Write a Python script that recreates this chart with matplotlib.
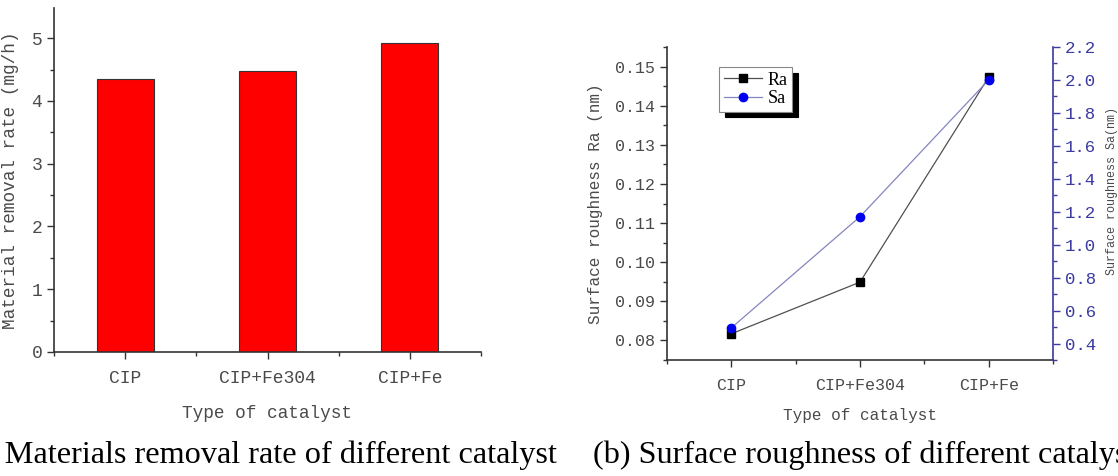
import matplotlib
matplotlib.use("Agg")
import matplotlib.pyplot as plt
from matplotlib.ticker import MultipleLocator

# data
catalysts = ["CIP", "CIP+Fe304", "CIP+Fe"]
removal_rate = [4.35, 4.48, 4.92]
ra = [0.0817, 0.0949, 0.1473]
sa = [0.495, 1.17, 2.0]

mono = "Liberation Mono"
serif = "Liberation Serif"
grey = "#4a4a4a"
spine = "#333333"
blue = "#3a3aa0"

W, H = 1118, 476
fig = plt.figure(figsize=(W / 100, H / 100), dpi=100)

x = list(range(1, len(catalysts) + 1))


def style_axis(ax, fs):
    for s in ["top", "right"]:
        ax.spines[s].set_visible(False)
    for s in ["left", "bottom"]:
        ax.spines[s].set_color(spine)
        ax.spines[s].set_linewidth(1.2)
    ax.set_xlim(0.5, 3.5)
    ax.set_xticks(x)
    ax.set_xticklabels(catalysts, fontfamily=mono, fontsize=fs, color=grey)
    ax.set_xticks([0.5, 1.5, 2.5, 3.5], minor=True)
    ax.tick_params(axis="both", which="major", direction="out", length=5,
                   width=1, color=spine, labelcolor=grey)
    ax.tick_params(axis="both", which="minor", direction="out", length=3,
                   width=1, color=spine)
    ax.tick_params(axis="x", which="major", pad=8)
    for lab in ax.get_yticklabels():
        lab.set_fontfamily(mono)
        lab.set_fontsize(fs)


# (a) bar chart
ax1 = fig.add_axes([54 / W, 124 / H, 427 / W, 344 / H])
ax1.bar(x, removal_rate, width=0.4, color="#ff0000", edgecolor=spine, linewidth=0.8)
ax1.set_ylim(0, 5.48)
ax1.yaxis.set_major_locator(MultipleLocator(1))
ax1.yaxis.set_minor_locator(MultipleLocator(0.5))
style_axis(ax1, 13)
ax1.set_ylabel("Material removal rate (mg/h)", fontfamily=mono, fontsize=12.8, color=grey)
ax1.yaxis.set_label_coords(-0.082, 0.5)
ax1.set_xlabel("Type of catalyst", fontfamily=mono, fontsize=12.8, color=grey)
ax1.xaxis.set_label_coords(0.5, -0.154)

# (b) roughness with twin axis
ax2 = fig.add_axes([667 / W, 116 / H, 386 / W, 313 / H])
ax2.set_ylim(0.075, 0.155)
ax2.yaxis.set_major_locator(MultipleLocator(0.01))
ax2.yaxis.set_minor_locator(MultipleLocator(0.005))
ax2.yaxis.set_major_formatter(plt.FuncFormatter(lambda v, p: "%.2f" % v))
l1, = ax2.plot(x, ra, color="#505050", lw=0.9, marker="s", ms=6,
               mfc="black", mec="black", label="Ra")
style_axis(ax2, 12)
ax2.set_ylabel("Surface roughness Ra (nm)", fontfamily=mono, fontsize=11.5, color=grey)
ax2.yaxis.set_label_coords(-0.167, 0.5)
ax2.set_xlabel("Type of catalyst", fontfamily=mono, fontsize=11.5, color=grey)
ax2.xaxis.set_label_coords(0.5, -0.153)

ax3 = ax2.twinx()
ax3.set_ylim(0.3, 2.2)
ax3.yaxis.set_major_locator(MultipleLocator(0.2))
ax3.yaxis.set_minor_locator(MultipleLocator(0.1))
ax3.yaxis.set_major_formatter(plt.FuncFormatter(lambda v, p: "%.1f" % v))
l2, = ax3.plot(x, sa, color="#8585c0", lw=0.9, marker="o", ms=6,
               mfc="#0000ee", mec="#0000ee", label="Sa")
for s in ["top", "left", "bottom"]:
    ax3.spines[s].set_visible(False)
ax3.spines["right"].set_color(blue)
ax3.spines["right"].set_linewidth(1.2)
ax3.tick_params(axis="y", which="major", length=5, width=1, color=blue, labelcolor=blue)
ax3.tick_params(axis="y", which="minor", length=3, width=1, color=blue)
for lab in ax3.get_yticklabels():
    lab.set_fontfamily(mono)
    lab.set_fontsize(12.5)
ax3.set_ylabel("Surface roughness Sa(nm)", fontfamily=mono, fontsize=8.5, color=grey)
ax3.yaxis.set_label_coords(1.138, 0.54)

leg = ax2.legend(handles=[l1, l2], loc="upper left", bbox_to_anchor=(0.135, 0.936),
                 borderaxespad=0, prop={"family": serif, "size": 13},
                 frameon=True, fancybox=False, handlelength=2.1, handletextpad=0.35,
                 labelspacing=0.1, borderpad=0.25,
                 shadow={"color": "black", "alpha": 1, "ox": 4, "oy": -4})
leg.get_frame().set_edgecolor("#888888")
leg.get_frame().set_linewidth(0.8)
leg.set_zorder(5)

# captions (the reference image crops both at the figure edges)
fig.text(557 / W, 1 - 463 / H, "(a) Materials removal rate of different catalyst",
         ha="right", va="baseline", fontfamily=serif, fontsize=23.2, color="black")
fig.text(593 / W, 1 - 463 / H, "(b) Surface roughness of different catalyst",
         ha="left", va="baseline", fontfamily=serif, fontsize=23.2, color="black")

fig.savefig("out.png", dpi=100)
